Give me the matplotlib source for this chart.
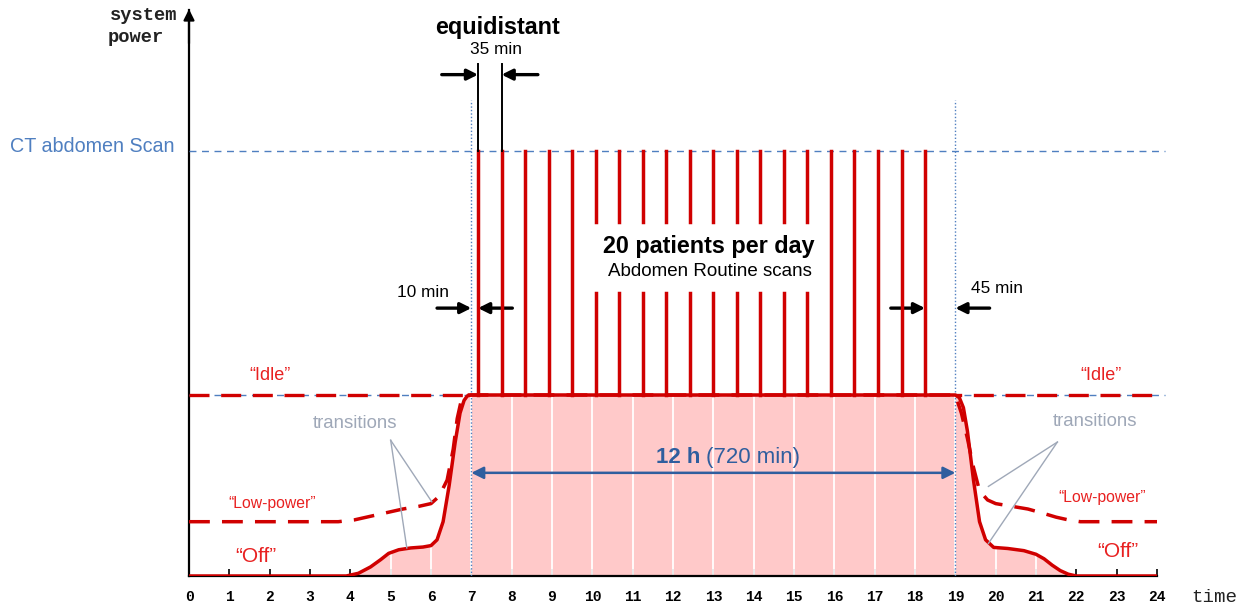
import numpy as np
import matplotlib
matplotlib.use("Agg")
import matplotlib.pyplot as plt

# ---------------- data ----------------
hours = list(range(0, 25))
tick_labels = [str(h) for h in hours]

idle_level = 1.0
ct_level = 2.35
lowpower_level = 0.30

n_patients = 20
first_scan_h = 7 + 10 / 60
scan_interval_min = 35
scan_times = [first_scan_h + i * scan_interval_min / 60 for i in range(n_patients)]
gap_scans = list(range(5, 15))   # bars interrupted by the text
gap_low, gap_high = 1.565, 1.955

day_start, day_end = 7, 19

# solid "off" curve (hour, level)
off_x = [0, 3.9, 4.2, 4.5, 4.75, 4.95, 5.2, 5.5, 5.8, 6.0, 6.15, 6.3, 6.45, 6.6, 6.72, 6.82, 6.9, 7.0,
         19.0, 19.1, 19.2, 19.3, 19.45, 19.6, 19.75, 19.95, 20.3, 20.7, 21.0, 21.2, 21.4, 21.6, 21.8, 22.0, 24]
off_y = [0, 0, 0.015, 0.05, 0.09, 0.125, 0.145, 0.155, 0.16, 0.168, 0.2, 0.3, 0.5, 0.74, 0.9, 0.97, 0.995, 1.0,
         1.0, 0.985, 0.93, 0.8, 0.53, 0.3, 0.2, 0.158, 0.152, 0.14, 0.12, 0.095, 0.06, 0.03, 0.01, 0.0, 0]

# dashed "low-power" curve
lp_x = [0, 3.7, 4.1, 4.5, 4.9, 5.3, 5.7, 6.0, 6.2, 6.4, 6.55, 6.65, 6.75, 6.85,
        19.0, 19.15, 19.3, 19.45, 19.6, 19.8, 20.0, 20.4, 20.8, 21.2, 21.5, 21.8, 22.1, 24]
lp_y = [0.30, 0.30, 0.31, 0.33, 0.35, 0.37, 0.385, 0.40, 0.44, 0.53, 0.7, 0.87, 0.97, 1.0,
        1.0, 0.9, 0.76, 0.6, 0.47, 0.42, 0.40, 0.385, 0.37, 0.345, 0.325, 0.31, 0.30, 0.30]

# ---------------- styling ----------------
RED = "#D00000"
LRED = "#E82020"
BLUE = "#4F7FC0"
DBLUE = "#2F5E9E"
PINK = "#FFC9C9"
GREY = "#9FA8B8"
SANS = ["Liberation Sans", "DejaVu Sans"]
MONO = ["Liberation Mono", "DejaVu Sans Mono"]

fig = plt.figure(figsize=(12.41, 6.05), dpi=100)
ax_left, ax_right = 189 / 1241, 1157 / 1241
ax_bottom, ax_top = (605 - 576) / 605, (605 - 10) / 605
ax = fig.add_axes([ax_left, ax_bottom, ax_right - ax_left, ax_top - ax_bottom])
ymax = 566 / 181
ax.set_xlim(0, 24)
ax.set_ylim(0, ymax)

# spines
for s in ["top", "right"]:
    ax.spines[s].set_visible(False)
ax.spines["left"].set_linewidth(1.6)
ax.spines["bottom"].set_linewidth(1.6)
ax.annotate("", xy=(0, ymax + 0.02), xytext=(0, ymax - 0.2),
            arrowprops=dict(arrowstyle="-|>", color="black", lw=1.6, mutation_scale=16),
            annotation_clip=False)

ax.set_xticks(hours)
ax.set_xticklabels(tick_labels, fontfamily=MONO, fontweight="bold", fontsize=10.5)
ax.tick_params(axis="x", direction="in", length=5, width=1.2, pad=10)
ax.set_yticks([])

# fill under solid curve
ax.fill_between(off_x, 0, off_y, color=PINK, lw=0, zorder=1)
# white hour lines inside fill
for h in hours[1:-1]:
    top = np.interp(h, off_x, off_y)
    if top > 0.02:
        ax.plot([h, h], [0, top - 0.005], color="white", lw=1.3, zorder=2)

# reference dashed lines
ax.plot([0, 24.2], [ct_level, ct_level], color=BLUE, lw=1.0, ls=(0, (5, 4)), zorder=3, clip_on=False)
ax.plot([0, 24.2], [idle_level, idle_level], color=BLUE, lw=1.0, ls=(0, (5, 4)), zorder=3, clip_on=False)
ax.plot([0, day_start], [idle_level, idle_level], color=RED, lw=2.4, ls=(0, (6, 3.5)), zorder=4)
ax.plot([day_end, 24], [idle_level, idle_level], color=RED, lw=2.4, ls=(4, (6, 3.5)), zorder=4)
ax.plot([day_start, day_end], [idle_level, idle_level], color=RED, lw=1.6, zorder=4)

# vertical dotted day boundaries
for xv in [day_start, day_end]:
    ax.plot([xv, xv], [0, 2.63], color=BLUE, lw=1.0, ls=(0, (1, 1.5)), zorder=3)

# curves
ax.plot(lp_x, lp_y, color=RED, lw=2.5, ls=(0, (6, 3.5)), zorder=5)
ax.plot(off_x, off_y, color=RED, lw=2.5, zorder=6, solid_capstyle="butt")

# scan spikes
for i, t in enumerate(scan_times):
    if i in gap_scans:
        ax.plot([t, t], [idle_level, gap_low], color=RED, lw=2.5, zorder=5)
        ax.plot([t, t], [gap_high, ct_level], color=RED, lw=2.5, zorder=5)
    else:
        ax.plot([t, t], [idle_level, ct_level], color=RED, lw=2.5, zorder=5)

# equidistant marker
t0, t1 = scan_times[0], scan_times[1]
for t in (t0, t1):
    ax.plot([t, t], [ct_level, 2.83], color="black", lw=1.4, zorder=6)
arr = dict(arrowstyle="-|>", color="black", lw=2.4, mutation_scale=16, shrinkA=0, shrinkB=0)
ax.annotate("", xy=(t0, 2.77), xytext=(t0 - 0.9, 2.77), arrowprops=arr)
ax.annotate("", xy=(t1, 2.77), xytext=(t1 + 0.9, 2.77), arrowprops=arr)
ax.text(7.62, 2.91, "35 min", ha="center", va="center", fontsize=12.4, family=SANS)
ax.text(7.66, 3.033, "equidistant", ha="center", va="center", fontsize=16.8,
        fontweight="bold", family=SANS)

# 10 min arrows
ax.annotate("", xy=(day_start, 1.48), xytext=(day_start - 0.85, 1.48), arrowprops=arr)
ax.annotate("", xy=(t0, 1.48), xytext=(t0 + 0.85, 1.48), arrowprops=arr)
ax.text(5.8, 1.569, "10 min", ha="center", va="center", fontsize=12.4, family=SANS)

# 45 min arrows
tl = scan_times[-1]
ax.annotate("", xy=(tl, 1.48), xytext=(tl - 0.85, 1.48), arrowprops=arr)
ax.annotate("", xy=(day_end, 1.48), xytext=(day_end + 0.85, 1.48), arrowprops=arr)
ax.text(20.03, 1.591, "45 min", ha="center", va="center", fontsize=12.4, family=SANS)

# center text
ax.text(12.89, 1.823, "20 patients per day", ha="center", va="center", fontsize=16.8,
        fontweight="bold", family=SANS)
ax.text(12.92, 1.685, "Abdomen Routine scans", ha="center", va="center", fontsize=13.5, family=SANS)

# 12 h arrow
ax.annotate("", xy=(day_end, 0.57), xytext=(day_start, 0.57),
            arrowprops=dict(arrowstyle="<|-|>", color=DBLUE, lw=1.8, mutation_scale=18,
                            shrinkA=0, shrinkB=0), zorder=7)
ax.text(12.67, 0.652, "12 h", ha="right", va="center", fontsize=16, fontweight="bold",
        color=DBLUE, family=SANS)
ax.text(12.82, 0.652, "(720 min)", ha="left", va="center", fontsize=16, color=DBLUE, family=SANS)

# state labels
lab = dict(color=LRED, ha="center", va="center", family=SANS)
ax.text(2.01, 1.105, "\u201cIdle\u201d", fontsize=13, **lab)
ax.text(22.61, 1.105, "\u201cIdle\u201d", fontsize=13, **lab)
ax.text(2.06, 0.403, "\u201cLow-power\u201d", fontsize=11.3, **lab)
ax.text(22.64, 0.436, "\u201cLow-power\u201d", fontsize=11.3, **lab)
ax.text(1.66, 0.11, "\u201cOff\u201d", fontsize=15, **lab)
ax.text(23.03, 0.133, "\u201cOff\u201d", fontsize=15, **lab)

# transitions annotations
ax.text(4.12, 0.845, "transitions", color=GREY, fontsize=13.4, ha="center", va="center", family=SANS)
ax.text(22.46, 0.851, "transitions", color=GREY, fontsize=13.4, ha="center", va="center", family=SANS)
gl = dict(color=GREY, lw=1.0, zorder=7)
ax.plot([5.0, 6.02], [0.75, 0.41], **gl)
ax.plot([5.0, 5.4], [0.75, 0.155], **gl)
ax.plot([21.53, 19.82], [0.74, 0.495], **gl)
ax.plot([21.53, 19.82], [0.74, 0.18], **gl)

# axis titles
fig.text(177 / 1241, 1 - 16 / 605, "system", ha="right", va="center", fontsize=13.5,
         family=MONO, fontweight="bold", color="#222222")
fig.text(164 / 1241, 1 - 38 / 605, "power", ha="right", va="center", fontsize=13.5,
         family=MONO, fontweight="bold", color="#222222")
fig.text(1237 / 1241, 1 - 597 / 605, "time", ha="right", va="center", fontsize=13.8,
         family=MONO, color="#222222")
fig.text(175 / 1241, 1 - 147 / 605, "CT abdomen Scan", ha="right", va="center", fontsize=14.2,
         color=BLUE, family=SANS)

fig.savefig("out.png", dpi=100)
